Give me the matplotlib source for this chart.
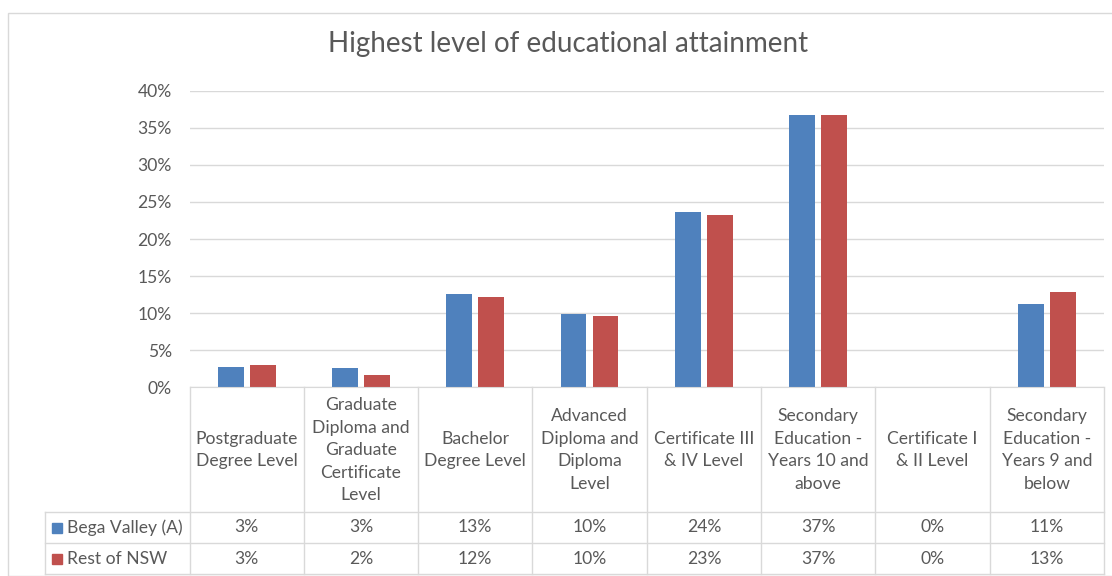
import numpy as np
import matplotlib
matplotlib.use("Agg")
import matplotlib.pyplot as plt
from matplotlib.patches import Rectangle
from matplotlib.ticker import FuncFormatter

# ---- data -------------------------------------------------------------
categories = [
    "Postgraduate\nDegree Level",
    "Graduate\nDiploma and\nGraduate\nCertificate\nLevel",
    "Bachelor\nDegree Level",
    "Advanced\nDiploma and\nDiploma\nLevel",
    "Certificate III\n& IV Level",
    "Secondary\nEducation -\nYears 10 and\nabove",
    "Certificate I\n& II Level",
    "Secondary\nEducation -\nYears 9 and\nbelow",
]
series_names = ["Bega Valley (A)", "Rest of NSW"]
bega_valley = [2.7, 2.6, 12.6, 9.9, 23.6, 36.7, 0.0, 11.3]
rest_of_nsw = [3.0, 1.6, 12.2, 9.6, 23.3, 36.7, 0.0, 12.9]
y_ticks = [0, 5, 10, 15, 20, 25, 30, 35, 40]

# ---- style ------------------------------------------------------------
BLUE = "#4F81BD"
RED = "#C0504D"
TEXT = "#595959"
GRID = "#D9D9D9"
FS = 12.6
plt.rcParams["font.family"] = ["Lato", "DejaVu Sans"]

W, H = 1112, 576
fig = plt.figure(figsize=(W / 100, H / 100), dpi=100)


def frame(left, top, right, bottom):
    """Figure-fraction rectangle from pixel edges."""
    return [left / W, 1 - bottom / H, (right - left) / W, (bottom - top) / H]


# outer chart border
fig.patches.append(Rectangle((8 / W, 0), 2, 1 - 13 / H, transform=fig.transFigure,
                             fill=False, edgecolor=GRID, lw=1))

fig.text(568 / W, 1 - 52 / H, "Highest level of educational attainment",
         ha="center", va="baseline", fontsize=20, color=TEXT)

# ---- plot area --------------------------------------------------------
plot_left, plot_right, plot_top, plot_bottom = 189.5, 1104, 90.7, 387.3
ax = fig.add_axes(frame(plot_left, plot_top, plot_right, plot_bottom))
n = len(categories)
x = np.arange(n)
ax.set_xlim(-0.5, n - 0.5)
ax.set_ylim(0, 40)

ax.bar(x - 0.14, bega_valley, width=0.225, color=BLUE, zorder=3)
ax.bar(x + 0.14, rest_of_nsw, width=0.225, color=RED, zorder=3)

ax.set_yticks(y_ticks)
ax.yaxis.set_major_formatter(FuncFormatter(lambda v, _: f"{v:.0f}%"))
ax.tick_params(axis="y", length=0, pad=12.6, labelsize=FS, labelcolor=TEXT)
ax.set_xticks([])
ax.grid(axis="y", color=GRID, lw=1, zorder=0)
for side in ["top", "right", "left"]:
    ax.spines[side].set_visible(False)
ax.spines["bottom"].set_color(GRID)
ax.spines["bottom"].set_zorder(4)

# ---- data table -------------------------------------------------------
cat_px = (plot_right - plot_left) / n
table_left, table_bottom = 45, 574
row_lines = [512, 543, 574]
tab = fig.add_axes(frame(table_left, plot_bottom, plot_right, table_bottom))
x_left = -0.5 - (plot_left - table_left) / cat_px
tab.set_xlim(x_left, n - 0.5)
tab.set_ylim(table_bottom, plot_bottom)
tab.axis("off")


def px_to_x(px):
    return x_left + (px - table_left) / cat_px


line_kw = dict(color=GRID, lw=1, clip_on=False)
for b in np.arange(-0.5, n, 1.0):
    tab.plot([b, b], [plot_bottom, table_bottom], **line_kw)
for y in row_lines:
    tab.plot([x_left, n - 0.5], [y, y], **line_kw)
tab.plot([x_left, x_left], [row_lines[0], table_bottom], **line_kw)

header_mid = (plot_bottom + row_lines[0]) / 2 + 0.5
for i, lab in enumerate(categories):
    tab.text(i, header_mid, lab, ha="center", va="center", multialignment="center",
             fontsize=FS, color=TEXT, linespacing=1.5)

row_mid = [(row_lines[0] + row_lines[1]) / 2, (row_lines[1] + row_lines[2]) / 2]
for r, (name, vals, col) in enumerate(zip(series_names, [bega_valley, rest_of_nsw], [BLUE, RED])):
    y = row_mid[r]
    key_w = 10 / cat_px
    tab.add_patch(Rectangle((px_to_x(52), y + 5), key_w, -10, color=col, clip_on=False))
    tab.text(px_to_x(67), y, name, ha="left", va="center", fontsize=FS, color=TEXT)
    for i, v in enumerate(vals):
        tab.text(i, y, f"{v:.0f}%", ha="center", va="center", fontsize=FS, color=TEXT)

fig.savefig("out.png", dpi=100)
